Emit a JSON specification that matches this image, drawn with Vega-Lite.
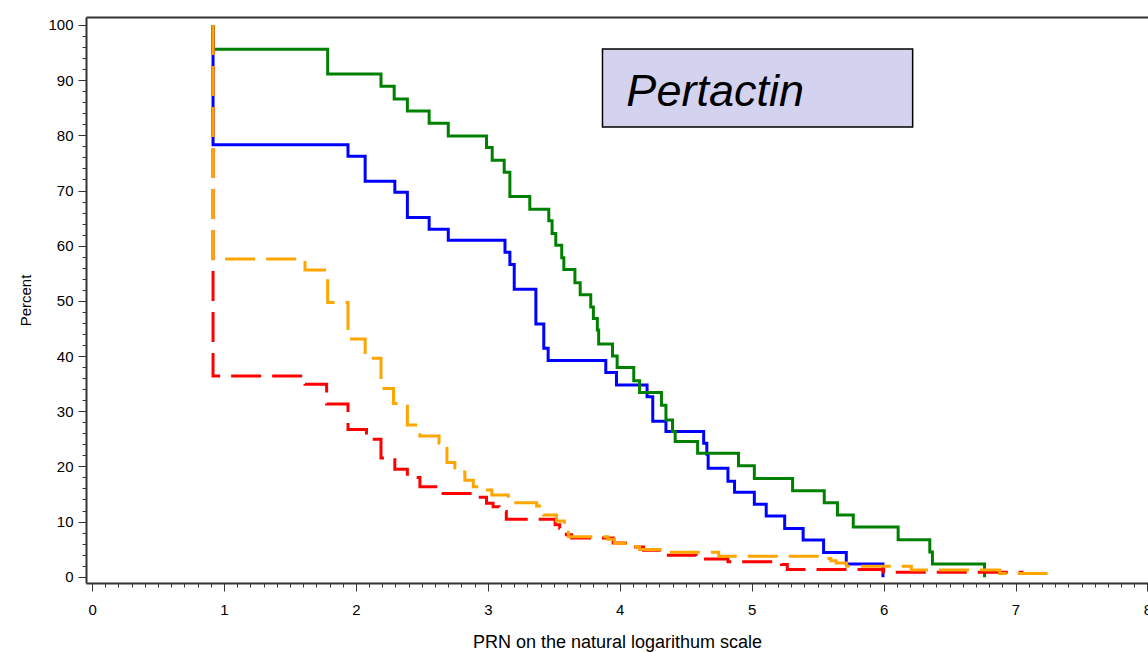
{
  "$schema": "https://vega.github.io/schema/vega-lite/v6.json",
  "width": 1062,
  "height": 566,
  "autosize": {"type": "none"},
  "padding": {"left": 86, "top": 17, "right": 0, "bottom": 69},
  "background": "white",
  "config": {"view": {"stroke": null}, "font": "Liberation Sans"},
  "datasets": {
    "box": [{"x1": 3.869, "x2": 6.22, "y1": 95.65, "y2": 81.5, "tx": 4.05, "ty": 85.3, "label": "Pertactin"}],
    "curves": [
      {"s": "blue", "x": 0.917, "y": 100},
      {"s": "blue", "x": 0.917, "y": 78.3},
      {"s": "blue", "x": 1.94, "y": 76.2},
      {"s": "blue", "x": 2.07, "y": 71.7},
      {"s": "blue", "x": 2.295, "y": 69.7},
      {"s": "blue", "x": 2.39, "y": 65.1},
      {"s": "blue", "x": 2.555, "y": 63.0},
      {"s": "blue", "x": 2.70, "y": 61.0},
      {"s": "blue", "x": 3.13, "y": 58.8},
      {"s": "blue", "x": 3.167, "y": 56.6},
      {"s": "blue", "x": 3.20, "y": 52.1},
      {"s": "blue", "x": 3.364, "y": 45.8},
      {"s": "blue", "x": 3.424, "y": 41.4},
      {"s": "blue", "x": 3.457, "y": 39.2},
      {"s": "blue", "x": 3.894, "y": 37.0},
      {"s": "blue", "x": 3.975, "y": 34.75},
      {"s": "blue", "x": 4.207, "y": 32.6},
      {"s": "blue", "x": 4.25, "y": 28.2},
      {"s": "blue", "x": 4.35, "y": 26.3},
      {"s": "blue", "x": 4.636, "y": 24.2},
      {"s": "blue", "x": 4.66, "y": 22.2},
      {"s": "blue", "x": 4.67, "y": 19.65},
      {"s": "blue", "x": 4.82, "y": 17.3},
      {"s": "blue", "x": 4.87, "y": 15.3},
      {"s": "blue", "x": 5.02, "y": 13.15},
      {"s": "blue", "x": 5.11, "y": 11.0},
      {"s": "blue", "x": 5.25, "y": 8.75},
      {"s": "blue", "x": 5.39, "y": 6.65},
      {"s": "blue", "x": 5.545, "y": 4.4},
      {"s": "blue", "x": 5.717, "y": 2.3},
      {"s": "blue", "x": 5.995, "y": -0.1},
      {"s": "green", "x": 0.917, "y": 100},
      {"s": "green", "x": 0.917, "y": 95.6},
      {"s": "green", "x": 1.786, "y": 91.1},
      {"s": "green", "x": 2.19, "y": 88.9},
      {"s": "green", "x": 2.29, "y": 86.6},
      {"s": "green", "x": 2.39, "y": 84.4},
      {"s": "green", "x": 2.555, "y": 82.2},
      {"s": "green", "x": 2.70, "y": 79.9},
      {"s": "green", "x": 2.99, "y": 77.8},
      {"s": "green", "x": 3.033, "y": 75.5},
      {"s": "green", "x": 3.124, "y": 73.3},
      {"s": "green", "x": 3.167, "y": 68.9},
      {"s": "green", "x": 3.318, "y": 66.6},
      {"s": "green", "x": 3.462, "y": 64.5},
      {"s": "green", "x": 3.487, "y": 62.2},
      {"s": "green", "x": 3.515, "y": 60.1},
      {"s": "green", "x": 3.56, "y": 57.8},
      {"s": "green", "x": 3.576, "y": 55.7},
      {"s": "green", "x": 3.66, "y": 53.3},
      {"s": "green", "x": 3.70, "y": 51.1},
      {"s": "green", "x": 3.78, "y": 48.9},
      {"s": "green", "x": 3.80, "y": 46.8},
      {"s": "green", "x": 3.83, "y": 44.7},
      {"s": "green", "x": 3.84, "y": 42.2},
      {"s": "green", "x": 3.945, "y": 40.0},
      {"s": "green", "x": 3.98, "y": 37.9},
      {"s": "green", "x": 4.106, "y": 35.5},
      {"s": "green", "x": 4.15, "y": 33.4},
      {"s": "green", "x": 4.316, "y": 31.1},
      {"s": "green", "x": 4.35, "y": 28.4},
      {"s": "green", "x": 4.40, "y": 26.3},
      {"s": "green", "x": 4.42, "y": 24.5},
      {"s": "green", "x": 4.59, "y": 22.4},
      {"s": "green", "x": 4.90, "y": 20.1},
      {"s": "green", "x": 5.02, "y": 17.8},
      {"s": "green", "x": 5.31, "y": 15.6},
      {"s": "green", "x": 5.55, "y": 13.4},
      {"s": "green", "x": 5.65, "y": 11.2},
      {"s": "green", "x": 5.77, "y": 9.0},
      {"s": "green", "x": 6.11, "y": 6.7},
      {"s": "green", "x": 6.35, "y": 4.5},
      {"s": "green", "x": 6.37, "y": 2.3},
      {"s": "green", "x": 6.765, "y": -0.1},
      {"s": "red", "x": 0.917, "y": 100},
      {"s": "red", "x": 0.917, "y": 36.4},
      {"s": "red", "x": 1.614, "y": 34.9},
      {"s": "red", "x": 1.778, "y": 31.3},
      {"s": "red", "x": 1.94, "y": 26.7},
      {"s": "red", "x": 2.08, "y": 24.9},
      {"s": "red", "x": 2.19, "y": 21.5},
      {"s": "red", "x": 2.295, "y": 19.5},
      {"s": "red", "x": 2.39, "y": 18.0},
      {"s": "red", "x": 2.485, "y": 16.3},
      {"s": "red", "x": 2.63, "y": 15.1},
      {"s": "red", "x": 2.89, "y": 14.4},
      {"s": "red", "x": 2.99, "y": 13.3},
      {"s": "red", "x": 3.04, "y": 12.7},
      {"s": "red", "x": 3.085, "y": 11.8},
      {"s": "red", "x": 3.14, "y": 10.4},
      {"s": "red", "x": 3.51, "y": 9.4},
      {"s": "red", "x": 3.545, "y": 8.8},
      {"s": "red", "x": 3.595, "y": 7.6},
      {"s": "red", "x": 3.635, "y": 7.0},
      {"s": "red", "x": 3.95, "y": 6.1},
      {"s": "red", "x": 4.10, "y": 5.4},
      {"s": "red", "x": 4.18, "y": 4.8},
      {"s": "red", "x": 4.34, "y": 3.9},
      {"s": "red", "x": 4.58, "y": 3.2},
      {"s": "red", "x": 4.82, "y": 2.7},
      {"s": "red", "x": 5.225, "y": 2.2},
      {"s": "red", "x": 5.27, "y": 1.3},
      {"s": "red", "x": 6.0, "y": 0.8},
      {"s": "red", "x": 7.06, "y": 0.8},
      {"s": "orange", "x": 0.917, "y": 100},
      {"s": "orange", "x": 0.917, "y": 57.6},
      {"s": "orange", "x": 1.614, "y": 55.6},
      {"s": "orange", "x": 1.786, "y": 49.7},
      {"s": "orange", "x": 1.94, "y": 43.1},
      {"s": "orange", "x": 2.07, "y": 39.6},
      {"s": "orange", "x": 2.19, "y": 34.1},
      {"s": "orange", "x": 2.285, "y": 31.4},
      {"s": "orange", "x": 2.39, "y": 27.5},
      {"s": "orange", "x": 2.485, "y": 25.5},
      {"s": "orange", "x": 2.63, "y": 24.2},
      {"s": "orange", "x": 2.69, "y": 20.7},
      {"s": "orange", "x": 2.75, "y": 19.0},
      {"s": "orange", "x": 2.826, "y": 17.5},
      {"s": "orange", "x": 2.89, "y": 16.3},
      {"s": "orange", "x": 2.96, "y": 15.7},
      {"s": "orange", "x": 3.03, "y": 14.8},
      {"s": "orange", "x": 3.155, "y": 14.0},
      {"s": "orange", "x": 3.2, "y": 13.4},
      {"s": "orange", "x": 3.37, "y": 12.8},
      {"s": "orange", "x": 3.42, "y": 11.2},
      {"s": "orange", "x": 3.52, "y": 10.1},
      {"s": "orange", "x": 3.58, "y": 9.0},
      {"s": "orange", "x": 3.61, "y": 7.25},
      {"s": "orange", "x": 3.91, "y": 6.8},
      {"s": "orange", "x": 3.96, "y": 6.05},
      {"s": "orange", "x": 4.04, "y": 5.45},
      {"s": "orange", "x": 4.15, "y": 4.95},
      {"s": "orange", "x": 4.35, "y": 4.45},
      {"s": "orange", "x": 4.75, "y": 3.7},
      {"s": "orange", "x": 5.55, "y": 3.3},
      {"s": "orange", "x": 5.60, "y": 2.9},
      {"s": "orange", "x": 5.64, "y": 2.5},
      {"s": "orange", "x": 5.72, "y": 1.9},
      {"s": "orange", "x": 6.21, "y": 1.2},
      {"s": "orange", "x": 6.88, "y": 0.6},
      {"s": "orange", "x": 7.31, "y": 0.2}
    ]
  },
  "layer": [
    {
      "data": {"name": "box"},
      "mark": {"type": "rect", "fill": "#D3D3F0", "stroke": "#000000", "strokeWidth": 1.5},
      "encoding": {
        "x": {"field": "x1", "type": "quantitative", "scale": {"domain": [-0.046, 8.004], "nice": false, "zero": false},
              "axis": {"orient": "top", "ticks": false, "labels": false, "title": null, "grid": false, "domainColor": "#333333", "domainWidth": 2}},
        "x2": {"field": "x2"},
        "y": {"field": "y1", "type": "quantitative", "scale": {"domain": [-1.14, 101.45], "nice": false, "zero": false}, "axis": null},
        "y2": {"field": "y2"}
      }
    },
    {
      "data": {"name": "box"},
      "mark": {"type": "text", "font": "Liberation Sans", "fontStyle": "italic", "fontSize": 45, "align": "left", "baseline": "alphabetic", "color": "#000000"},
      "encoding": {
        "x": {"field": "tx", "type": "quantitative", "axis": null},
        "y": {"field": "ty", "type": "quantitative", "axis": null},
        "text": {"field": "label"}
      }
    },
    {
      "data": {"name": "curves"},
      "mark": {"type": "line", "interpolate": "step-after", "strokeWidth": 3},
      "encoding": {
        "x": {
          "field": "x", "type": "quantitative",
          "axis": {
            "orient": "bottom",
            "values": [0,0.1,0.2,0.3,0.4,0.5,0.6,0.7,0.8,0.9,1,1.1,1.2,1.3,1.4,1.5,1.6,1.7,1.8,1.9,2,2.1,2.2,2.3,2.4,2.5,2.6,2.7,2.8,2.9,3,3.1,3.2,3.3,3.4,3.5,3.6,3.7,3.8,3.9,4,4.1,4.2,4.3,4.4,4.5,4.6,4.7,4.8,4.9,5,5.1,5.2,5.3,5.4,5.5,5.6,5.7,5.8,5.9,6,6.1,6.2,6.3,6.4,6.5,6.6,6.7,6.8,6.9,7,7.1,7.2,7.3,7.4,7.5,7.6,7.7,7.8,7.9,8],
            "labelExpr": "abs(datum.value - round(datum.value)) < 0.001 ? format(round(datum.value), 'd') : ''",
            "tickSize": {"condition": {"test": "abs(datum.value - round(datum.value)) < 0.001", "value": 8}, "value": 4},
            "tickColor": "#333333",
            "domainColor": "#333333",
            "domainWidth": 2,
            "grid": false,
            "labelOverlap": false,
            "labelFlush": false,
            "labelBound": false,
            "labelPadding": 11,
            "labelFontSize": 15,
            "labelColor": "#000000",
            "title": "PRN on the natural logarithum scale",
            "titleFontSize": 18,
            "titleFontWeight": "normal",
            "titleColor": "#000000",
            "titlePadding": 16
          }
        },
        "y": {
          "field": "y", "type": "quantitative",
          "axis": {
            "orient": "left",
            "values": [0,2,4,6,8,10,12,14,16,18,20,22,24,26,28,30,32,34,36,38,40,42,44,46,48,50,52,54,56,58,60,62,64,66,68,70,72,74,76,78,80,82,84,86,88,90,92,94,96,98,100],
            "labelExpr": "datum.value % 10 == 0 ? format(datum.value, 'd') : ''",
            "tickSize": {"condition": {"test": "datum.value % 10 == 0", "value": 8}, "value": 4},
            "tickColor": "#333333",
            "domainColor": "#333333",
            "domainWidth": 2,
            "grid": false,
            "labelOverlap": false,
            "labelFlush": false,
            "labelBound": false,
            "labelPadding": 5,
            "labelFontSize": 15,
            "labelColor": "#000000",
            "title": "Percent",
            "titleFontSize": 15,
            "titleFontWeight": "normal",
            "titleColor": "#000000",
            "titlePadding": 14
          }
        },
        "color": {"field": "s", "type": "nominal", "legend": null,
                  "scale": {"domain": ["blue", "green", "red", "orange"], "range": ["#0000FF", "#008000", "#FF0000", "#FFA500"]}},
        "strokeDash": {"field": "s", "type": "nominal", "legend": null,
                       "scale": {"domain": ["blue", "green", "red", "orange"], "range": [[1, 0], [1, 0], [30, 11], [30, 11]]}}
      }
    }
  ],
  "resolve": {"axis": {"x": "independent", "y": "independent"}}
}
